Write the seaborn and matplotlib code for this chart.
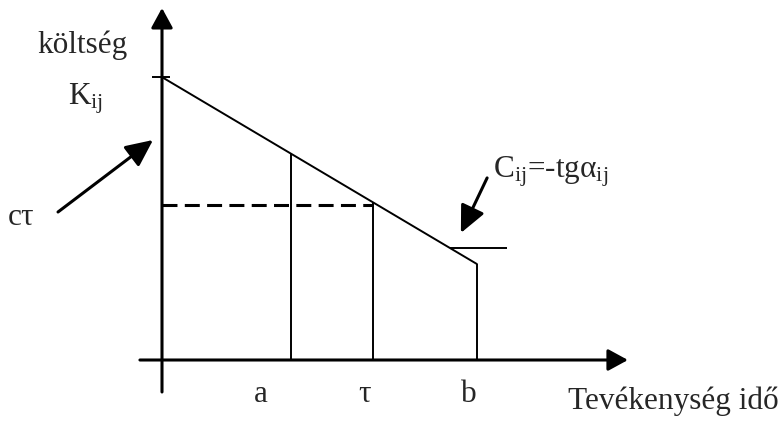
import numpy as np
import pandas as pd
import matplotlib
matplotlib.use("Agg")
import matplotlib.pyplot as plt
import seaborn as sns

# ---- data (diagram units) ----
cost_t = [0.0, 9.84]          # activity time at K and at b
cost_v = [8.84, 3.0]          # cost values
marks = ["a", "τ", "b"]
mark_t = [4.03, 6.59, 9.84]
c_tau = 4.85                  # cost level at tau (dashed)
c_level = 3.5                 # short horizontal at C
c_seg = [9.0, 10.78]
k_tick = [-0.31, 0.25]
y_label = "költség"
x_label = "Tevékenység idő"
k_label = r"$\mathrm{K}_{\mathrm{ij}}$"
ct_label = "cτ"
c_label = r"$\mathrm{C}_{\mathrm{ij}}\text{=-tgα}_{\mathrm{ij}}$"

sns.set_theme(style="white")
plt.rcParams["font.family"] = ["Liberation Serif", "DejaVu Serif"]
plt.rcParams["mathtext.fontset"] = "custom"
plt.rcParams["mathtext.rm"] = "Liberation Serif"
plt.rcParams["mathtext.it"] = "Liberation Serif"
plt.rcParams["mathtext.bf"] = "Liberation Serif:bold"

fig = plt.figure(figsize=(7.81, 4.23), dpi=100)
ax = fig.add_axes([0, 0, 1, 1])
ax.set_xlim(-162 / 32, (781 - 162) / 32)
ax.set_ylim((360 - 423) / 32, 360 / 32)
ax.axis("off")

FS = 22.5
k = "black"

# cost line
df = pd.DataFrame({"t": cost_t, "c": cost_v})
sns.lineplot(data=df, x="t", y="c", ax=ax, color=k, lw=1.4)

# vertical lines from axis up to the cost line
tops = np.interp(mark_t, cost_t, cost_v)
ax.vlines(mark_t, 0, tops, color=k, lw=1.4)

# dashed level
ax.hlines(c_tau, 0, mark_t[1], color=k, lw=2.2, linestyles=[(0, (4.9, 2.4))])

# K tick and C segment
ax.hlines(cost_v[0], k_tick[0], k_tick[1], color=k, lw=1.4)
ax.hlines(c_level, c_seg[0], c_seg[1], color=k, lw=1.4)

# axes with arrows
axis_style = "-|>,head_length=0.55,head_width=0.3"
ax.annotate("", xy=(0, 11.0), xytext=(0, -1.0),
            arrowprops=dict(arrowstyle=axis_style, color=k, lw=2.2,
                            mutation_scale=22, shrinkA=0, shrinkB=0))
ax.annotate("", xy=(14.56, 0), xytext=(-0.69, 0),
            arrowprops=dict(arrowstyle=axis_style, color=k, lw=2.2,
                            mutation_scale=22, shrinkA=0, shrinkB=0))

# pointer arrows
ptr_style = "-|>,head_length=0.75,head_width=0.35"
ax.annotate("", xy=(-0.28, 6.875), xytext=(-3.25, 4.625),
            arrowprops=dict(arrowstyle=ptr_style, color=k, lw=2.2,
                            mutation_scale=22, shrinkA=0, shrinkB=0))
ax.annotate("", xy=(9.34, 3.97), xytext=(10.16, 5.69),
            arrowprops=dict(arrowstyle=ptr_style, color=k, lw=2.2,
                            mutation_scale=22, shrinkA=0, shrinkB=0))

# texts
ax.text(-2.5, 9.59, y_label, fontsize=FS, ha="center", va="baseline")
ax.text(-2.94, 7.97, k_label, fontsize=FS, ha="left", va="baseline")
ax.text(-4.81, 4.22, ct_label, fontsize=FS, ha="left", va="baseline")
ax.text(10.34, 5.69, c_label, fontsize=FS, ha="left", va="baseline")
offsets = [-0.94, -0.25, -0.25]
for m, t, o in zip(marks, mark_t, offsets):
    ax.text(t + o, -1.31, m, fontsize=FS, ha="center", va="baseline")
ax.text(12.69, -1.53, x_label, fontsize=FS, ha="left", va="baseline")

fig.savefig("out.png", dpi=100)
